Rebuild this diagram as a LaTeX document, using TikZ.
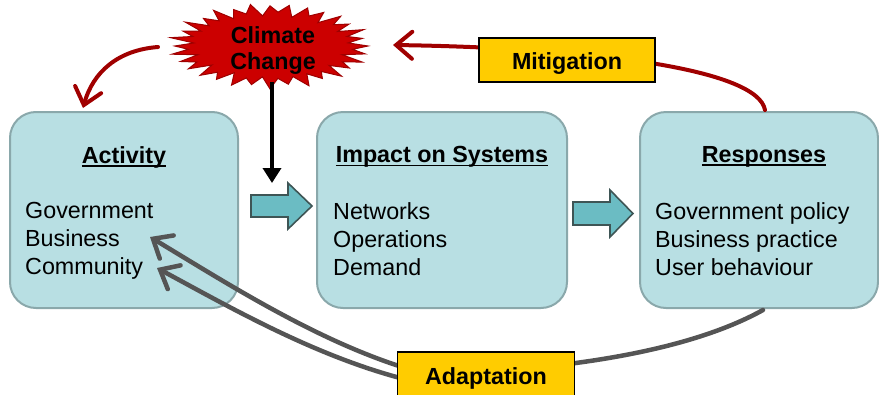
\documentclass[tikz,border=0pt]{standalone}
\usepackage{fontspec}
\setmainfont{Liberation Sans}
\usetikzlibrary{arrows.meta}
\definecolor{boxfill}{HTML}{B8DFE3}
\definecolor{boxedge}{HTML}{8AA8AB}
\definecolor{blockfill}{HTML}{6BBCC3}
\definecolor{blockedge}{HTML}{3E5555}
\definecolor{burst}{HTML}{CC0000}
\definecolor{burstedge}{HTML}{9E0000}
\definecolor{mitred}{HTML}{A00000}
\definecolor{adgray}{HTML}{555555}
\definecolor{tag}{HTML}{FFCC00}
% heading with a close underline
\newcommand\headul[1]{\setbox0=\hbox{#1}\rlap{\rule[-3.6pt]{\wd0}{1.8pt}}\box0}
\begin{document}
\begin{tikzpicture}[x=1pt,y=-1pt,
  every node/.style={font=\fontsize{23.3}{28}\selectfont},
  stage/.style={draw=boxedge, line width=2pt, fill=boxfill, rounded corners=26pt,
    minimum height=196pt, inner sep=0pt},
  heading/.style={font=\fontsize{23.3}{28}\selectfont\bfseries, inner sep=0pt},
  items/.style={align=left, anchor=north west, inner sep=0pt},
  tagbox/.style={draw=black, line width=1.6pt, fill=tag, text height=18.6pt, text depth=0pt,
    font=\fontsize{23.3}{28}\selectfont\bfseries, inner sep=0pt},
  flow/.style={draw=blockedge, line width=1.6pt, fill=blockfill, line join=miter},
  mitline/.style={draw=mitred, line width=4pt, line cap=round},
  adline/.style={draw=adgray, line width=4.5pt, line cap=round},
  barb/.style={-{Straight Barb[length=16pt,width=27pt,line cap=round]}}
]
\useasboundingbox (0,0) rectangle (879,394);
\clip (0,0) rectangle (879,394);

% three stages
\node[stage, minimum width=228pt] (act)  at (124,210) {};
\node[stage, minimum width=250pt] (imp)  at (442,210) {};
\node[stage, minimum width=238pt] (resp) at (759,210) {};

\node[heading] (acth)  at (124,157) {\headul{Activity}};
\node[heading] (imph)  at (442,157) {\headul{Impact on Systems}};
\node[heading] (resph) at (764,157) {\headul{Responses}};

\node[items] (actl)  at (25,202)  {Government\\Business\\Community};
\node[items] (impl)  at (333,202) {Networks\\Operations\\Demand};
\node[items] (respl) at (655,202) {Government policy\\Business practice\\User behaviour};

% block arrows between stages
\draw[flow] (251,195) -- (288,195) -- (288,183) -- (312,206) -- (288,229) -- (288,217) -- (251,217) -- cycle;
\draw[flow] (573,202) -- (610,202) -- (610,190) -- (633,213.5) -- (610,237) -- (610,225) -- (573,225) -- cycle;

% climate change starburst: 32 spikes round an ellipse
\fill[burst, draw=burstedge, line width=1pt] (368,46)
  \foreach \i in {1,...,63} {
    -- ({270+(98*(1+0.04*sin(\i*97))-19*mod(\i,2))*cos(\i*5.625)},
        {46+(41*(1+0.05*sin(\i*97))-9*mod(\i,2))*sin(\i*5.625)})
  } -- cycle;
\node[heading, align=center, font=\fontsize{23.3}{26}\selectfont\bfseries] (cc) at (273,51) {Climate\\Change};

\coordinate (ccfoot) at (272,82);
\coordinate (impin)  at (272,183);
\draw[line width=3.5pt, -{Triangle[length=15pt,width=18pt]}] (ccfoot) -- (impin);

% climate change acts on activity
\coordinate (ccleft) at (158,47);
\coordinate (actin)  at (83,108);
\draw[mitline, barb] (ccleft) .. controls (118,50) and (93,72) .. (actin);

% mitigation loop
\coordinate (resptop) at (765,110);
\coordinate (ccright) at (393,45);
\draw[mitline, barb] (resptop) .. controls (758,70) and (600,48) .. (ccright);
\node[tagbox, minimum width=176pt, minimum height=44pt] (mit) at (567,60) {Mitigation};

% adaptation loop
\coordinate (respbot) at (763,310);
\coordinate (adjoin)  at (480,372);
\coordinate (adA) at (430,375);
\coordinate (adB) at (430,385);
\coordinate (bus) at (150,237);
\coordinate (com) at (157,268);
\draw[adline] (respbot) .. controls (700,345) and (600,365) .. (adjoin);
\draw[adline, barb] (adA) .. controls (330,350) and (230,285) .. (bus);
\draw[adline, barb] (adB) .. controls (330,365) and (235,310) .. (com);
\node[tagbox, minimum width=177pt, minimum height=46pt] (ada) at (486,375) {Adaptation};
\end{tikzpicture}
\end{document}
